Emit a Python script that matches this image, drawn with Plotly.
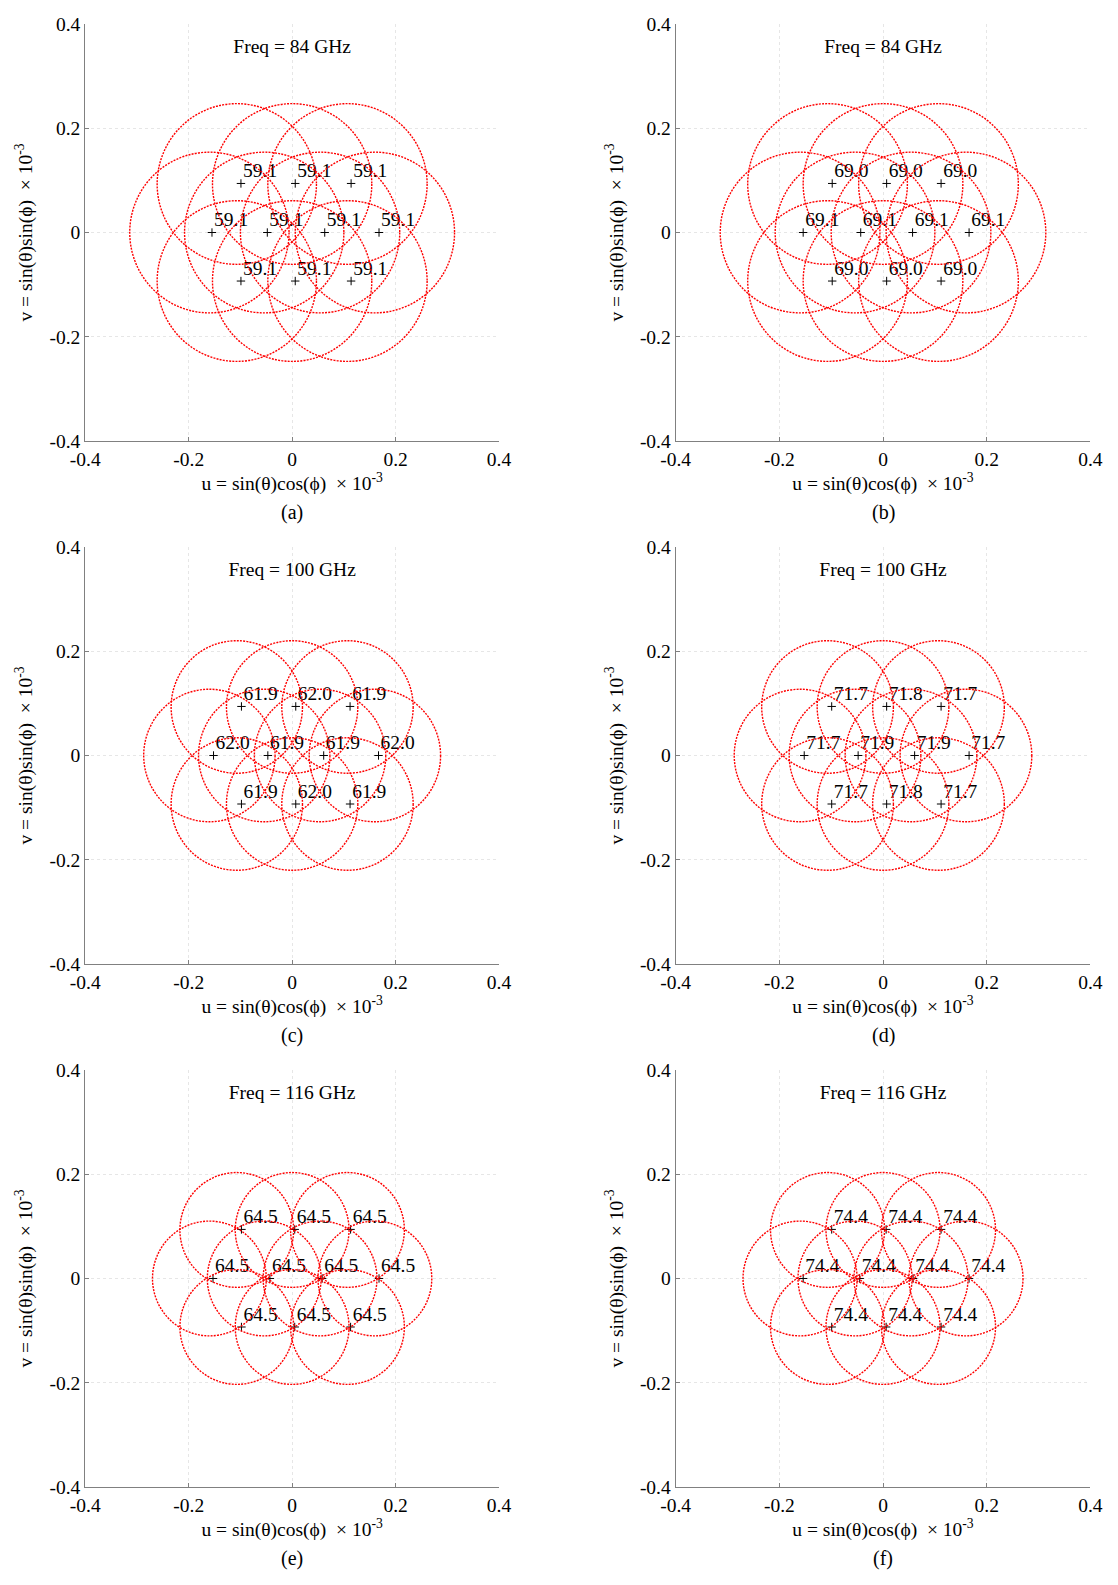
import plotly.graph_objects as go

W, H = 1118, 1585

# ---------------- data ----------------
panel_letters = ["(a)", "(b)", "(c)", "(d)", "(e)", "(f)"]
freq_labels = ["Freq = 84 GHz", "Freq = 84 GHz", "Freq = 100 GHz",
               "Freq = 100 GHz", "Freq = 116 GHz", "Freq = 116 GHz"]
beam_radius = [0.154, 0.154, 0.127, 0.127, 0.110, 0.110]

# -3 dB contour centres (same for all panels)
circle_u = [-0.107, 0.0, 0.107, -0.160, -0.054, 0.054, 0.160, -0.107, 0.0, 0.107]
circle_v = [0.093, 0.093, 0.093, 0.0, 0.0, 0.0, 0.0, -0.093, -0.093, -0.093]

# beam peak positions
beam_v = [0.094, 0.094, 0.094, 0.0, 0.0, 0.0, 0.0, -0.093, -0.093, -0.093]
beam_u_a = [-0.099, 0.006, 0.114, -0.155, -0.048, 0.063, 0.168, -0.099, 0.006, 0.114]
beam_u_b = [-0.098, 0.007, 0.112, -0.154, -0.043, 0.057, 0.166, -0.098, 0.007, 0.112]
beam_u_c = [-0.098, 0.007, 0.112, -0.152, -0.047, 0.061, 0.167, -0.098, 0.007, 0.112]
beam_u_d = [-0.099, 0.007, 0.112, -0.152, -0.048, 0.061, 0.166, -0.099, 0.007, 0.112]
beam_u_e = [-0.098, 0.005, 0.113, -0.153, -0.043, 0.058, 0.168, -0.098, 0.005, 0.113]
beam_u_f = [-0.099, 0.006, 0.112, -0.154, -0.045, 0.058, 0.166, -0.099, 0.006, 0.112]

# directivity (dBi) labels
gain_a = ["59.1", "59.1", "59.1", "59.1", "59.1", "59.1", "59.1", "59.1", "59.1", "59.1"]
gain_b = ["69.0", "69.0", "69.0", "69.1", "69.1", "69.1", "69.1", "69.0", "69.0", "69.0"]
gain_c = ["61.9", "62.0", "61.9", "62.0", "61.9", "61.9", "62.0", "61.9", "62.0", "61.9"]
gain_d = ["71.7", "71.8", "71.7", "71.7", "71.9", "71.9", "71.7", "71.7", "71.8", "71.7"]
gain_e = ["64.5", "64.5", "64.5", "64.5", "64.5", "64.5", "64.5", "64.5", "64.5", "64.5"]
gain_f = ["74.4", "74.4", "74.4", "74.4", "74.4", "74.4", "74.4", "74.4", "74.4", "74.4"]

tick_vals = [-0.4, -0.2, 0, 0.2, 0.4]
tick_text = ["-0.4", "-0.2", "0", "0.2", "0.4"]

x_title = "u = sin(θ)cos(ϕ)  × 10<sup>-3</sup>"
y_title = "v = sin(θ)sin(ϕ)  × 10<sup>-3</sup>"

beam_u_all = [beam_u_a, beam_u_b, beam_u_c, beam_u_d, beam_u_e, beam_u_f]
gain_all = [gain_a, gain_b, gain_c, gain_d, gain_e, gain_f]

# ---------------- style / geometry ----------------
col_px = [(72, 496), (677, 1102)]
row_px = [(14, 437), (544, 967), (1074, 1497)]
LABEL_DU = 0.004      # label offset from the beam mark (axis units)
LABEL_DV = 0.021
FREQ_V = 0.354

FONT = "Liberation Serif"
FS = 19.5
fig = go.Figure()
shapes = []
annotations = []
layout_axes = {}

for i in range(6):
    r, c = divmod(i, 2)
    n = i + 1
    xs = "" if n == 1 else str(n)
    xl, xr = col_px[c]
    yt, yb = row_px[r]
    xdom = [xl / W, xr / W]
    ydom = [1 - yb / H, 1 - yt / H]
    axis_common = dict(
        range=[-0.4, 0.4], tickvals=tick_vals, ticktext=tick_text,
        showgrid=True, gridcolor="#e6e6e6", griddash="dot", gridwidth=1,
        showline=True, linecolor="#808080", linewidth=1,
        ticks="inside", ticklen=4, tickcolor="#808080",
        tickfont=dict(family=FONT, size=FS, color="black"),
        zeroline=False, fixedrange=True,
    )
    layout_axes["xaxis" + xs] = dict(
        axis_common, domain=xdom, anchor="y" + xs,
        title=dict(text=x_title, font=dict(family=FONT, size=FS, color="black"),
                   standoff=4),
    )
    layout_axes["yaxis" + xs] = dict(
        axis_common, domain=ydom, anchor="x" + xs,
        title=dict(text=y_title, font=dict(family=FONT, size=FS, color="black"),
                   standoff=11),
    )

    # circles (-3 dB beam contours)
    rad = beam_radius[i]
    for cu, cv in zip(circle_u, circle_v):
        shapes.append(dict(
            type="circle", xref="x" + xs, yref="y" + xs,
            x0=cu - rad, x1=cu + rad, y0=cv - rad, y1=cv + rad,
            line=dict(color="#ff0000", width=1.4, dash="2px,1.2px"),
        ))

    # beam peaks
    fig.add_trace(go.Scatter(
        x=beam_u_all[i], y=beam_v, mode="markers",
        marker=dict(symbol="cross-thin", size=6, line=dict(width=1, color="black"),
                    color="black"),
        xaxis="x" + xs, yaxis="y" + xs, showlegend=False, hoverinfo="skip",
    ))
    # gain labels
    fig.add_trace(go.Scatter(
        x=[u + LABEL_DU for u in beam_u_all[i]], y=[v + LABEL_DV for v in beam_v],
        mode="text", text=gain_all[i], textposition="middle right",
        textfont=dict(family=FONT, size=FS, color="black"),
        xaxis="x" + xs, yaxis="y" + xs, showlegend=False, hoverinfo="skip",
    ))
    # frequency label
    fig.add_trace(go.Scatter(
        x=[0], y=[FREQ_V], mode="text", text=[freq_labels[i]],
        textposition="middle center",
        textfont=dict(family=FONT, size=FS, color="black"),
        xaxis="x" + xs, yaxis="y" + xs, showlegend=False, hoverinfo="skip",
    ))
    # panel letter
    annotations.append(dict(
        xref="paper", yref="paper", x=(xl + xr) / 2 / W, y=1 - (yb + 72) / H,
        text=panel_letters[i],
        showarrow=False, font=dict(family=FONT, size=20, color="black"),
        xanchor="center", yanchor="middle",
    ))

fig.update_layout(
    width=W, height=H, margin=dict(l=0, r=0, t=0, b=0),
    paper_bgcolor="white", plot_bgcolor="white",
    shapes=shapes, annotations=annotations, showlegend=False,
    **layout_axes,
)

fig.write_html("out.html")
